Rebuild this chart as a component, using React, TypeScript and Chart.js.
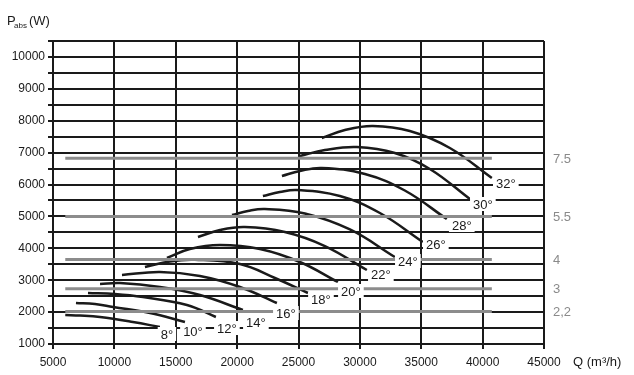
import React, { useEffect, useRef } from "react";
import { Chart, registerables } from "chart.js";

Chart.register(...registerables);

// Angle curves: airflow Q (m3/h) and absorbed power (W)
const angleLabels = ["8°", "10°", "12°", "14°", "16°", "18°", "20°", "22°", "24°", "26°", "28°", "30°", "32°"];

const q8 = [6000, 7200, 8830, 11510, 13710];
const p8 = [1909, 1893, 1846, 1690, 1533];
const q10 = [6870, 8420, 9890, 12900, 15750];
const p10 = [2285, 2254, 2160, 1972, 1690];
const q12 = [7850, 10050, 12330, 15910, 18270];
const p12 = [2600, 2568, 2473, 2223, 1846];
const q14 = [8830, 10460, 13710, 16970, 20470];
const p14 = [2881, 2912, 2787, 2536, 2066];
const q16 = [10620, 13710, 16970, 20230, 23240];
const p16 = [3163, 3257, 3132, 2787, 2285];
const q18 = [12490, 14530, 16560, 20230, 23080, 25770];
const p18 = [3414, 3590, 3640, 3508, 3069, 2599];
const q20 = [14280, 16150, 18600, 21860, 25110, 28210];
const p20 = [3700, 3980, 4104, 3978, 3571, 2944];
const q22 = [16810, 18600, 20630, 23890, 27150, 30570];
const p22 = [4354, 4574, 4668, 4511, 4072, 3320];
const q24 = [19580, 20880, 22260, 25520, 29190, 32850];
const p24 = [5044, 5170, 5232, 5091, 4590, 3727];
const q26 = [22100, 23480, 24870, 28370, 31630, 35130];
const p26 = [5640, 5765, 5828, 5640, 5107, 4198];
const q28 = [23650, 25110, 26900, 30410, 33660, 37080];
const p28 = [6267, 6424, 6518, 6330, 5812, 4919];
const q30 = [25110, 27150, 29760, 32850, 35700, 38960];
const p30 = [6894, 7082, 7176, 6988, 6487, 5546];
const q32 = [26900, 28780, 31060, 34070, 37330, 40750];
const p32 = [7458, 7709, 7834, 7678, 7145, 6204];

// Motor power lines (kW)
const motorLabels = ["7.5", "5.5", "4", "3", "2,2"];
const motorPower = [6820, 5000, 3650, 2730, 2020];
const motorQStart = 6000;
const motorQEnd = 40750;

const curveQ = [q8, q10, q12, q14, q16, q18, q20, q22, q24, q26, q28, q30, q32];
const curveP = [p8, p10, p12, p14, p16, p18, p20, p22, p24, p26, p28, p30, p32];

// label placement relative to curve end (style, in px)
const LABEL_DX = [7, 8, 11, 13, 9, 13, 13, 14, 13, 13, 15, 13, 14];
const LABEL_DY = [7, 9, 11, 12, 10, 6, 9, 4, 4, 2, 6, 5, 5];

const FONT = "'Liberation Sans', Arial, sans-serif";

const textPlugin = {
  id: "texts",
  afterDraw(chart: any) {
    const ctx = chart.ctx;
    const xs = chart.scales.x;
    const ys = chart.scales.y;
    ctx.save();
    ctx.font = `13px ${FONT}`;
    ctx.textAlign = "center";
    ctx.textBaseline = "middle";
    let k = 0;
    chart.data.datasets.forEach((ds: any, i: number) => {
      if (!ds.angle) return;
      const meta = chart.getDatasetMeta(i);
      const last = meta.data[meta.data.length - 1];
      const cx = last.x + LABEL_DX[k];
      const cy = last.y + LABEL_DY[k];
      k++;
      const w = ctx.measureText(ds.angle).width;
      ctx.fillStyle = "#fff";
      ctx.fillRect(cx - w / 2 - 3, cy - 7, w + 6, 14);
      ctx.fillStyle = "#1a1a1a";
      ctx.fillText(ds.angle, cx, cy + 1);
    });
    ctx.textAlign = "left";
    ctx.fillStyle = "#8a8a8a";
    ctx.font = `13px ${FONT}`;
    motorLabels.forEach((m, i) => {
      ctx.fillText(m, chart.chartArea.right + 9, ys.getPixelForValue(motorPower[i]) + 1);
    });
    ctx.fillStyle = "#1a1a1a";
    ctx.textBaseline = "alphabetic";
    ctx.font = `13px ${FONT}`;
    ctx.fillText("P", 7, 25);
    ctx.font = `8px ${FONT}`;
    ctx.fillText("abs", 14, 28);
    ctx.font = `13px ${FONT}`;
    ctx.fillText("(W)", 29, 25);
    ctx.fillText("Q (m³/h)", xs.getPixelForValue(45000) + 29, 366);
    ctx.restore();
  },
};

export default function App() {
  const ref = useRef<HTMLCanvasElement>(null);
  useEffect(() => {
    if (!ref.current) return;
    const datasets: any[] = [];
    motorPower.forEach((p, i) => {
      datasets.push({
        label: motorLabels[i],
        data: [
          { x: motorQStart, y: p },
          { x: motorQEnd, y: p },
        ],
        borderColor: "#8c8c8c",
        borderWidth: 3,
        pointRadius: 0,
        tension: 0,
      });
    });
    curveQ.forEach((qs, i) => {
      datasets.push({
        label: angleLabels[i],
        angle: angleLabels[i],
        data: qs.map((q, j) => ({ x: q, y: curveP[i][j] })),
        borderColor: "#1a1a1a",
        borderWidth: 2.5,
        pointRadius: 0,
        tension: 0.4,
      });
    });
    const chart = new Chart(ref.current, {
      type: "line",
      data: { datasets },
      options: {
        responsive: false,
        animation: false,
        layout: { padding: { left: 0, right: 90, top: 41, bottom: 0 } },
        plugins: { legend: { display: false }, tooltip: { enabled: false } },
        scales: {
          x: {
            type: "linear",
            min: 5000,
            max: 45000,
            afterFit: (s: any) => {
              s.height = 31;
            },
            ticks: {
              stepSize: 5000,
              autoSkip: false,
              maxRotation: 0,
              padding: 6,
              color: "#1a1a1a",
              font: { family: FONT, size: 12 },
              callback: (v: any) => String(v),
            },
            grid: { color: "#1a1a1a", lineWidth: 2, tickLength: 5 },
            border: { color: "#1a1a1a", width: 2 },
          },
          y: {
            type: "linear",
            min: 1000,
            max: 10500,
            afterFit: (s: any) => {
              s.width = 53;
            },
            ticks: {
              stepSize: 500,
              autoSkip: false,
              padding: 3,
              color: "#1a1a1a",
              font: { family: FONT, size: 12 },
              callback: (v: any) => (v % 1000 === 0 ? String(v) : ""),
            },
            grid: { color: "#1a1a1a", lineWidth: 2, tickLength: 5 },
            border: { color: "#1a1a1a", width: 2 },
          },
        },
      },
      plugins: [textPlugin],
    } as any);
    return () => chart.destroy();
  }, []);
  return (
    <div style={{ position: "absolute", left: 0, top: 0, width: 634, height: 375, background: "#fff" }}>
      <canvas ref={ref} width={634} height={375} style={{ display: "block" }} />
    </div>
  );
}
